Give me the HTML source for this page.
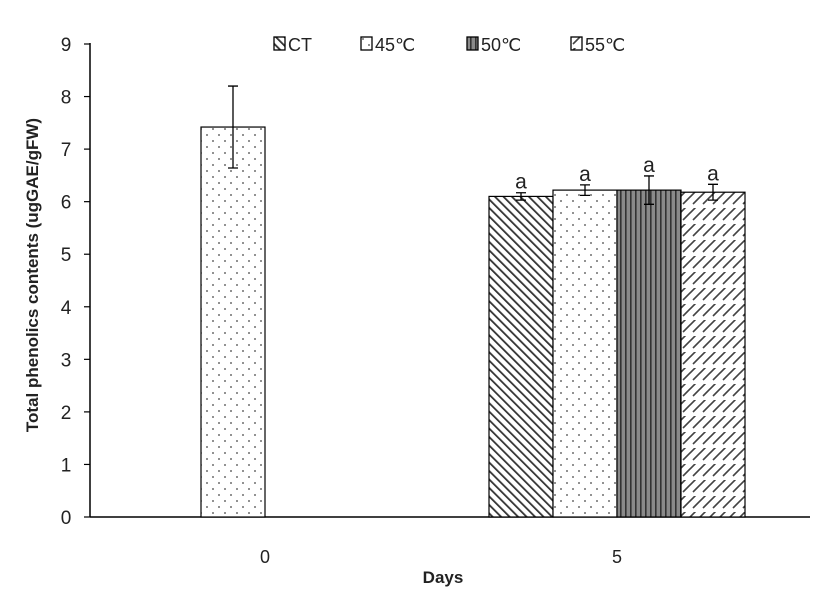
<!DOCTYPE html>
<html><head><meta charset="utf-8"><style>
html,body{margin:0;padding:0;background:#fff;}
svg{display:block;font-family:"Liberation Sans",sans-serif;}
</style></head><body>
<svg id="chart" width="827" height="606" viewBox="0 0 827 606" xmlns="http://www.w3.org/2000/svg">
<defs>
<pattern id="p-ct" width="6" height="6" patternUnits="userSpaceOnUse" patternTransform="rotate(-45)"><rect width="6" height="6" fill="#fff"/><rect width="1.8" height="6" fill="#333"/></pattern>
<pattern id="p-45" width="12" height="12" patternUnits="userSpaceOnUse"><rect width="12" height="12" fill="#fff"/><circle cx="3" cy="3" r="0.9" fill="#444"/><circle cx="9" cy="9" r="0.9" fill="#444"/></pattern>
<pattern id="p-50" width="5" height="5" patternUnits="userSpaceOnUse"><rect width="5" height="5" fill="#8a8a8a"/><rect width="1.6" height="5" fill="#333"/></pattern>
<pattern id="p-55" width="10" height="16" patternUnits="userSpaceOnUse"><rect width="10" height="16" fill="#fff"/><path d="M0 5 L5 0 M5 10 L10 5 M-2 7 L7 -2 M3 12 L12 3" stroke="#444" stroke-width="1.6" fill="none"/></pattern>
</defs>
<g id="plot"></g>
</svg>
<script>
const categories = ["0", "5"];
const seriesNames = ["CT", "45℃", "50℃", "55℃"];
const valuesCT = [null, 6.10];
const values45 = [7.42, 6.22];
const values50 = [null, 6.22];
const values55 = [null, 6.18];
const errCT = [null, 0.07];
const err45 = [0.78, 0.10];
const err50 = [null, 0.27];
const err55 = [null, 0.15];
const sigLabels = [[null, "a"], [null, "a"], [null, "a"], [null, "a"]];
const yTicks = [0,1,2,3,4,5,6,7,8,9];

const NS = "http://www.w3.org/2000/svg";
const g = document.getElementById('plot');
const X0 = 90, X1 = 810, Y0 = 517, Y9 = 44, YMAX = 9;
const y = v => Y0 - (v / YMAX) * (Y0 - Y9);
const catCenter = i => 265 + i * 352;
const barW = 64;
const series = [valuesCT, values45, values50, values55];
const errs = [errCT, err45, err50, err55];
const fills = ["url(#p-ct)", "url(#p-45)", "url(#p-50)", "url(#p-55)"];
function mk(tag, attrs, parent) { const e = document.createElementNS(NS, tag); for (const k in attrs) e.setAttribute(k, attrs[k]); (parent || g).appendChild(e); return e; }

let ax = mk('line', {x1: X0, y1: Y9 - 1, x2: X0, y2: Y0, stroke: '#000', 'stroke-width': 1.5});


let xa = mk('line', {x1: X0, y1: Y0, x2: X1, y2: Y0, stroke: '#000', 'stroke-width': 1.5});


yTicks.forEach(t => {
  const tk = mk('line', {x1: X0 - 6, y1: y(t), x2: X0, y2: y(t), stroke: '#000', 'stroke-width': 1.2});
  
  
  const tl = mk('text', {x: 66, y: y(t) + 7, 'text-anchor': 'middle', 'font-size': 19, fill: '#222'});
  tl.textContent = t;
  
  
});
categories.forEach((c, i) => {
  const tl = mk('text', {x: catCenter(i), y: 563, 'text-anchor': 'middle', 'font-size': 18, fill: '#222'});
  tl.textContent = c;
  
  
});
series.forEach((vals, s) => {
  vals.forEach((v, i) => {
    if (v === null) return;
    const x = catCenter(i) - 2 * barW + s * barW;
    const b = mk('rect', {x: x, y: y(v), width: barW, height: Y0 - y(v), fill: fills[s], stroke: '#000', 'stroke-width': 1.2});
    
    
    const e = errs[s][i], cx = x + barW / 2;
    const eb = mk('path', {d: `M${cx} ${y(v+e)} V${y(v-e)} M${cx-5} ${y(v+e)} H${cx+5} M${cx-5} ${y(v-e)} H${cx+5}`, stroke: '#000', 'stroke-width': 1.3, fill: 'none'});
    
    
    const lab = sigLabels[s][i];
    if (lab) {
      const t = mk('text', {x: cx, y: y(v + e) - 4, 'text-anchor': 'middle', 'font-size': 21, fill: '#222'});
      t.textContent = lab;
      
      
    }
  });
});
const legX = [274, 361, 467, 571];
seriesNames.forEach((n, s) => {
  const r = mk('rect', {x: legX[s], y: 37, width: 11, height: 13, fill: fills[s], stroke: '#000', 'stroke-width': 1.3});
  
  
  const t = mk('text', {x: legX[s] + 14, y: 51, 'font-size': 18, fill: '#222'});
  t.textContent = n;
  
  
});
const xt = mk('text', {x: 443, y: 583, 'text-anchor': 'middle', 'font-size': 17, 'font-weight': 'bold', fill: '#222'});
xt.textContent = 'Days';


const yt = mk('text', {x: 0, y: 0, 'text-anchor': 'middle', 'font-size': 17, 'font-weight': 'bold', fill: '#222', transform: 'translate(38,275) rotate(-90)'});
yt.textContent = 'Total phenolics contents (ugGAE/gFW)';


</script>
</body></html>
